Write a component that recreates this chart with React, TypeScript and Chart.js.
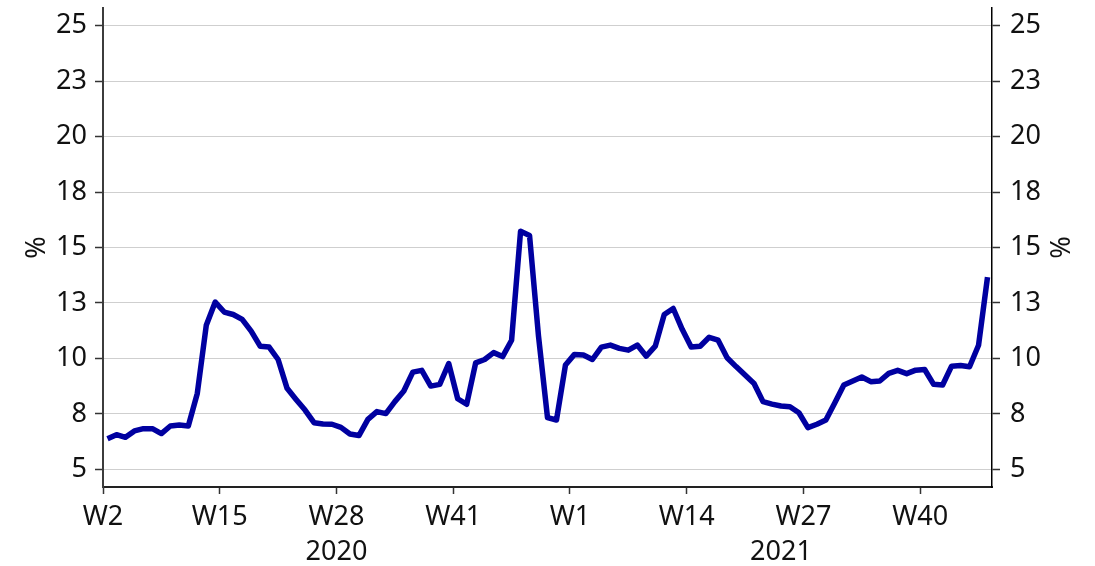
import { useEffect, useRef } from 'react';
import { Chart, registerables } from 'chart.js';

Chart.register(...registerables);

// Weekly categories (ISO weeks), 2020 W2 .. 2021 W47
const weeks2020 = [
  'W2', 'W3', 'W4', 'W5', 'W6', 'W7', 'W8', 'W9', 'W10', 'W11', 'W12', 'W13', 'W14',
  'W15', 'W16', 'W17', 'W18', 'W19', 'W20', 'W21', 'W22', 'W23', 'W24', 'W25', 'W26', 'W27',
  'W28', 'W29', 'W30', 'W31', 'W32', 'W33', 'W34', 'W35', 'W36', 'W37', 'W38', 'W39', 'W40',
  'W41', 'W42', 'W43', 'W44', 'W45', 'W46', 'W47', 'W48', 'W49', 'W50', 'W51', 'W52', 'W53',
];
const weeks2021 = [
  'W1', 'W2', 'W3', 'W4', 'W5', 'W6', 'W7', 'W8', 'W9', 'W10', 'W11', 'W12', 'W13',
  'W14', 'W15', 'W16', 'W17', 'W18', 'W19', 'W20', 'W21', 'W22', 'W23', 'W24', 'W25', 'W26',
  'W27', 'W28', 'W29', 'W30', 'W31', 'W32', 'W33', 'W34', 'W35', 'W36', 'W37', 'W38', 'W39',
  'W40', 'W41', 'W42', 'W43', 'W44', 'W45', 'W46', 'W47',
];
const yearLabels = ['2020', '2021'];

// Series values (%)
const values2020 = [
  6.38, 6.56, 6.44, 6.73, 6.83, 6.83, 6.61, 6.95, 7.0, 6.95, 8.42, 11.49, 12.54,
  12.09, 11.98, 11.76, 11.23, 10.55, 10.51, 9.95, 8.65, 8.15, 7.67, 7.1, 7.04, 7.03,
  6.89, 6.59, 6.52, 7.25, 7.6, 7.51, 8.05, 8.53, 9.38, 9.46, 8.75, 8.83, 9.77,
  8.18, 7.93, 9.8, 9.95, 10.26, 10.08, 10.82, 15.73, 15.54, 11.0, 7.33, 7.22, 9.7,
];
const values2021 = [
  10.18, 10.15, 9.95, 10.51, 10.6, 10.45, 10.37, 10.6, 10.1, 10.55, 11.98, 12.25, 11.31,
  10.51, 10.55, 10.95, 10.82, 10.03, 9.63, 9.25, 8.87, 8.05, 7.94, 7.85, 7.82, 7.55,
  6.88, 7.03, 7.22, 8.0, 8.8, 8.98, 9.16, 8.95, 8.98, 9.32, 9.46, 9.31, 9.47,
  9.5, 8.83, 8.8, 9.65, 9.68, 9.62, 10.59, 13.66,
];

// Y tick values (labels are shown rounded)
const yTickValues = [5, 7.5, 10, 12.5, 15, 17.5, 20, 22.5, 25];
const xTickEvery = 13;

const FONT_FAMILY = "'Noto Sans', sans-serif";
const FONT_SIZE = 27;

export default function App() {
  const canvasRef = useRef<HTMLCanvasElement>(null);

  useEffect(() => {
    const canvas = canvasRef.current;
    if (!canvas) return;

    const allWeeks = [...weeks2020, ...weeks2021];
    const allValues = [...values2020, ...values2021];
    const points = allValues.map((v, i) => ({ x: i + 0.5, y: v }));
    const tickIdx = allWeeks.map((_, i) => i).filter((i) => i % xTickEvery === 0);
    const yearSpans = [
      { label: yearLabels[0], start: 0, end: weeks2020.length },
      { label: yearLabels[1], start: weeks2020.length, end: weeks2020.length + weeks2021.length },
    ];

    const font = { family: FONT_FAMILY, size: FONT_SIZE };
    const textColor = '#111111';

    const yearPlugin = {
      id: 'yearLabels',
      afterDraw(chart: any) {
        const { ctx } = chart;
        const x = chart.scales.x;
        ctx.save();
        ctx.font = `${FONT_SIZE}px ${FONT_FAMILY}`;
        ctx.fillStyle = textColor;
        ctx.textAlign = 'center';
        ctx.textBaseline = 'middle';
        yearSpans.forEach((s) => {
          ctx.fillText(s.label, x.getPixelForValue((s.start + s.end) / 2), 552);
        });
        ctx.restore();
      },
    };

    const yScale = (side: 'left' | 'right') => ({
      type: 'linear' as const,
      position: side,
      min: 4.2,
      max: 25.8,
      afterBuildTicks: (s: any) => {
        s.ticks = yTickValues.map((v) => ({ value: v }));
      },
      afterFit: (s: any) => {
        s.width = 103;
        s.paddingTop = 0;
        s.paddingBottom = 0;
      },
      ticks: {
        callback: (v: any) => String(Math.round(Number(v))),
        font,
        color: textColor,
        padding: side === 'left' ? 8 : 10,
      },
      grid: {
        display: true,
        drawOnChartArea: side === 'left',
        color: '#cfcfcf',
        lineWidth: 1,
        tickLength: 8,
        tickColor: '#333333',
        tickWidth: 1.5,
      },
      border: {
        display: true,
        color: side === 'left' ? '#3c3c3c' : '#000000',
        width: side === 'left' ? 2 : 1.5,
      },
      title: {
        display: true,
        text: '%',
        font,
        color: textColor,
        padding: { top: 21, bottom: 0 },
      },
    });

    const chart = new Chart(canvas, {
      type: 'line',
      data: {
        datasets: [
          {
            label: '%',
            data: points,
            borderColor: '#0000a0',
            backgroundColor: '#0000a0',
            borderWidth: 5.5,
            pointRadius: 0,
            tension: 0,
            borderJoinStyle: 'round',
            yAxisID: 'y',
          },
        ],
      },
      options: {
        responsive: false,
        animation: false,
        layout: { padding: { top: 8, left: 0, right: 0, bottom: 0 } },
        plugins: {
          legend: { display: false },
          tooltip: { enabled: false },
        },
        scales: {
          x: {
            type: 'linear',
            min: 0,
            max: allWeeks.length,
            afterBuildTicks: (s: any) => {
              s.ticks = tickIdx.map((v) => ({ value: v }));
            },
            afterFit: (s: any) => {
              s.height = 79;
            },
            ticks: {
              callback: (v: any) => allWeeks[Number(v)] ?? '',
              font,
              color: textColor,
              padding: 7,
              maxRotation: 0,
              autoSkip: false,
            },
            grid: {
              drawOnChartArea: false,
              tickLength: 7,
              tickColor: '#333333',
              tickWidth: 1.5,
            },
            border: { display: true, color: '#222222', width: 2 },
          },
          y: yScale('left'),
          y2: yScale('right'),
        },
      },
      plugins: [yearPlugin],
    } as any);

    return () => chart.destroy();
  }, []);

  return (
    <div style={{ position: 'fixed', left: 0, top: 0, width: 1095, height: 566, background: '#ffffff' }}>
      <canvas ref={canvasRef} width={1095} height={566} style={{ display: 'block' }} />
    </div>
  );
}
